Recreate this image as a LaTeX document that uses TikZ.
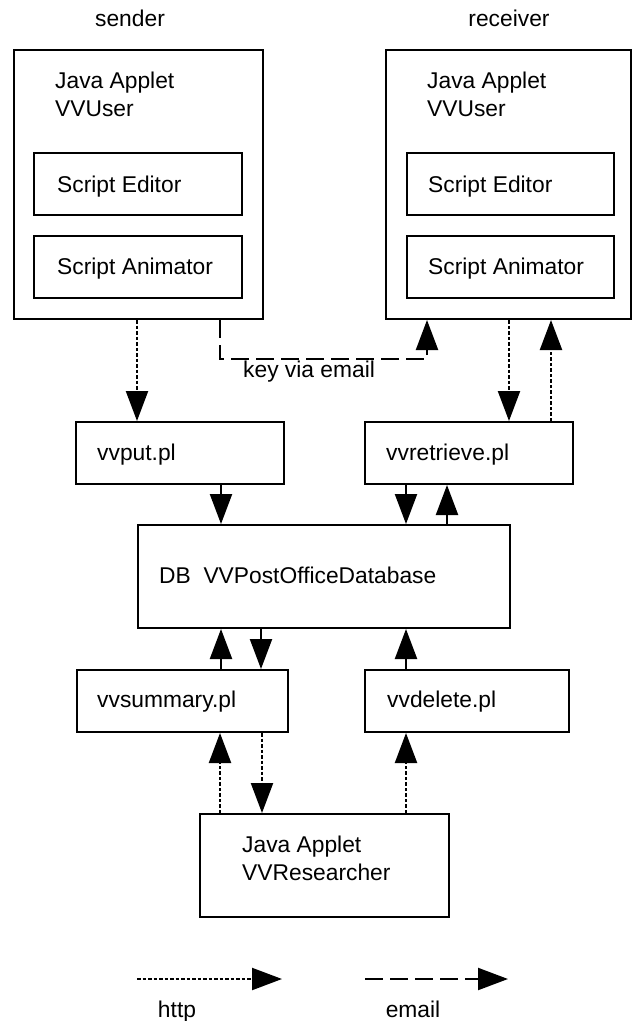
\documentclass[tikz,border=0pt]{standalone}
\usepackage{fontspec}
\setmainfont{Liberation Sans}
\usetikzlibrary{arrows.meta}
\begin{document}
\begin{tikzpicture}[x={(1pt,0pt)},y={(0pt,-1pt)},
  box/.style={draw, line width=2pt, rectangle, inner sep=0pt, anchor=north west},
  txt/.style={inner sep=0pt, anchor=base west, font=\fontsize{22.8pt}{28pt}\selectfont},
  ctxt/.style={inner sep=0pt, anchor=base, font=\fontsize{22.8pt}{28pt}\selectfont},
  tip/.style={-{Triangle[length=30pt,width=22pt]}},
  plain/.style={line width=2.2pt, tip},
  http/.style={line width=2.2pt, dash pattern=on 3.5pt off 2pt, tip},
  email/.style={line width=2.2pt, dash pattern=on 18pt off 7pt, tip},
]
\useasboundingbox (0,0) rectangle (632,1021);

% titles
\node[ctxt] (tsender) at (130,26) {sender};
\node[ctxt] (treceiver) at (509,26) {receiver};

% sender applet
\node[box, minimum width=249pt, minimum height=269pt] (sender) at (13,49) {};
\node[txt] (lsender) at (55,88) {\begin{tabular}[t]{@{}l@{}}Java Applet\\VVUser\end{tabular}};
\node[box, minimum width=208pt, minimum height=62pt] (sedit) at (33,152) {};
\node[txt] (lsedit) at (57,192) {Script Editor};
\node[box, minimum width=208pt, minimum height=62pt] (sanim) at (33,235) {};
\node[txt] (lsanim) at (57,274) {Script Animator};

% receiver applet
\node[box, minimum width=245pt, minimum height=269pt] (receiver) at (385,49) {};
\node[txt] (lreceiver) at (427,88) {\begin{tabular}[t]{@{}l@{}}Java Applet\\VVUser\end{tabular}};
\node[box, minimum width=207pt, minimum height=62pt] (redit) at (406,152) {};
\node[txt] (lredit) at (428,192) {Script Editor};
\node[box, minimum width=207pt, minimum height=62pt] (ranim) at (406,235) {};
\node[txt] (lranim) at (428,274) {Script Animator};

% scripts
\node[box, minimum width=208pt, minimum height=62pt] (vvput) at (75,421) {};
\node[txt] (lvvput) at (97,460) {vvput.pl};
\node[box, minimum width=208pt, minimum height=62pt] (vvretrieve) at (364,421) {};
\node[txt] (lvvretrieve) at (386,460) {vvretrieve.pl};

\node[box, minimum width=372pt, minimum height=103pt] (db) at (137,524) {};
\node[txt] (ldb) at (159,583) {DB\ \ VVPostOfficeDatabase};

\node[box, minimum width=211pt, minimum height=62pt] (vvsummary) at (76,669) {};
\node[txt] (lvvsummary) at (97,707) {vvsummary.pl};
\node[box, minimum width=204pt, minimum height=62pt] (vvdelete) at (364,669) {};
\node[txt] (lvvdelete) at (387,707) {vvdelete.pl};

\node[box, minimum width=249pt, minimum height=103pt] (researcher) at (199,813) {};
\node[txt] (lresearcher) at (242,852) {\begin{tabular}[t]{@{}l@{}}Java Applet\\VVResearcher\end{tabular}};

% connectors
\draw[http] (sender.south -| 137,0) -- (vvput.north -| 137,0);
\draw[email] (sender.south -| 220,0) |- (427,359) -- (receiver.south -| 427,0);
\node[txt] (lkey) at (243,377) {key via email};
\draw[http] (receiver.south -| 509,0) -- (vvretrieve.north -| 509,0);
\draw[http] (vvretrieve.north -| 551,0) -- (receiver.south -| 551,0);

\draw[plain] (vvput.south -| 221,0) -- (db.north -| 221,0);
\draw[plain] (vvretrieve.south -| 406,0) -- (db.north -| 406,0);
\draw[plain] (db.north -| 447,0) -- (vvretrieve.south -| 447,0);

\draw[plain] (vvsummary.north -| 221,0) -- (db.south -| 221,0);
\draw[plain] (db.south -| 261,0) -- (vvsummary.north -| 261,0);
\draw[plain] (vvdelete.north -| 406,0) -- (db.south -| 406,0);

\draw[http] (researcher.north -| 220,0) -- (vvsummary.south -| 220,0);
\draw[http] (vvsummary.south -| 262,0) -- (researcher.north -| 262,0);
\draw[http] (researcher.north -| 406,0) -- (vvdelete.south -| 406,0);

% legend
\coordinate (h1) at (137,979);
\coordinate (h2) at (282,979);
\coordinate (e1) at (365,979);
\coordinate (e2) at (508,979);
\draw[http] (h1) -- (h2);
\draw[email] (e1) -- (e2);
\node[ctxt] (lhttp) at (177,1017) {http};
\node[ctxt] (lemail) at (413,1017) {email};
\end{tikzpicture}
\end{document}
